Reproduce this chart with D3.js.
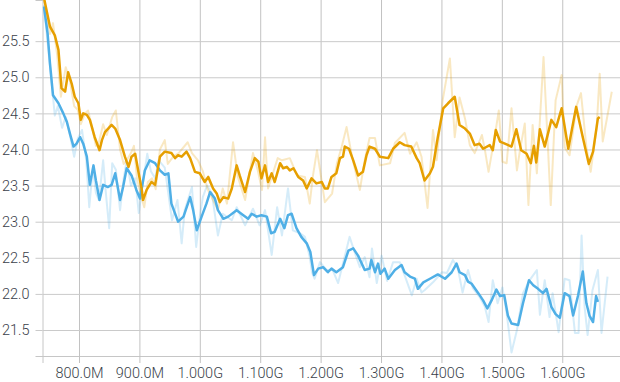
<!DOCTYPE html>
<html>
<head>
<meta charset="utf-8">
<script src="https://cdn.jsdelivr.net/npm/d3@7"></script>
<style>
  body { margin: 0; background: #fff; }
  svg { display: block; }
  .tick text { font-family: Roboto, "Liberation Sans", sans-serif; font-weight: 300; font-size: 14.5px; fill: #3a3f4a; }
</style>
</head>
<body>
<script>
// steps are in millions, values are loss
const xTicks = [800, 900, 1000, 1100, 1200, 1300, 1400, 1500, 1600];
const yTicks = [21.5, 22.0, 22.5, 23.0, 23.5, 24.0, 24.5, 25.0, 25.5];

const orangeRaw = [
  [742, 26.1], [752, 25.6], [757, 25.75], [764, 25.3], [770, 24.73], [778, 25.14], [785, 24.95], [792, 24.6],
  [798, 24.55], [803, 24.35], [810, 24.5], [815, 24.54], [822, 24.3], [828, 24.05], [833, 24.1], [840, 24.35],
  [846, 24.2], [855, 24.45], [861, 24.54], [868, 24.0], [874, 23.8], [879, 23.85], [886, 23.95], [891, 24.05],
  [896, 23.6], [903, 23.35], [908, 23.2], [914, 23.55], [921, 23.6], [927, 23.45], [934, 24.0], [942, 24.13],
  [947, 23.8], [956, 23.9], [965, 23.95], [980, 24.1], [987, 23.95], [997, 23.85], [1005, 23.7], [1013, 23.45],
  [1022, 23.3], [1030, 23.16], [1038, 23.46], [1045, 23.25], [1055, 24.1], [1063, 23.62], [1075, 23.3], [1088, 23.95],
  [1096, 23.71], [1103, 23.44], [1108, 24.17], [1113, 23.46], [1129, 23.88], [1136, 23.85], [1149, 23.88], [1161, 23.64],
  [1174, 23.62], [1182, 23.25], [1187, 23.62], [1194, 23.99], [1207, 23.27], [1219, 23.39], [1227, 23.81], [1235, 24.04],
  [1243, 24.31], [1252, 23.9], [1265, 23.44], [1273, 23.85], [1281, 24.16], [1290, 24.16], [1298, 23.78], [1315, 23.81],
  [1323, 24.09], [1339, 24.23], [1348, 23.94], [1359, 24.1], [1367, 23.9], [1377, 23.19], [1386, 24.27], [1392, 23.85],
  [1402, 24.68], [1414, 25.26], [1422, 24.17], [1430, 24.72], [1439, 24.43], [1447, 24.06], [1455, 23.95], [1467, 24.2],
  [1472, 23.99], [1478, 23.69], [1488, 24.17], [1495, 24.54], [1501, 23.83], [1508, 23.81], [1516, 24.57], [1525, 23.71],
  [1530, 23.99], [1538, 24.36], [1544, 23.23], [1551, 24.34], [1558, 23.67], [1569, 25.28], [1581, 23.23], [1589, 24.68],
  [1599, 25.03], [1604, 24.03], [1612, 23.92], [1624, 24.61], [1631, 24.78], [1640, 24.03], [1647, 23.69], [1657, 24.31],
  [1662, 25.05], [1667, 24.11], [1682, 24.8]
];

const blueRaw = [
  [742, 26.0], [749, 25.4], [755, 24.9], [760, 24.47], [765, 24.6], [772, 24.3], [778, 24.45], [785, 24.2],
  [792, 23.9], [798, 24.15], [805, 24.27], [812, 23.85], [817, 23.2], [823, 23.75], [828, 23.4], [833, 23.3],
  [840, 23.85], [845, 23.35], [850, 22.91], [855, 23.81], [861, 23.72], [868, 23.16], [874, 23.6], [879, 23.85],
  [886, 23.5], [893, 23.6], [899, 23.12], [906, 23.55], [913, 23.94], [919, 23.7], [926, 23.6], [932, 23.85],
  [942, 23.75], [954, 23.02], [963, 23.3], [970, 22.7], [975, 23.16], [987, 23.48], [994, 22.65], [1000, 23.07],
  [1005, 23.34], [1012, 23.5], [1020, 23.39], [1030, 22.81], [1038, 23.11], [1053, 23.02], [1061, 23.2], [1075, 22.95],
  [1088, 23.18], [1099, 22.95], [1108, 23.16], [1119, 22.54], [1128, 23.2], [1136, 22.81], [1146, 23.46], [1154, 22.88],
  [1166, 22.84], [1174, 22.79], [1182, 22.51], [1186, 22.29], [1190, 22.21], [1199, 22.44], [1210, 22.33], [1220, 22.33],
  [1229, 22.15], [1237, 22.42], [1248, 22.79], [1257, 22.56], [1265, 22.37], [1273, 22.51], [1281, 22.23], [1285, 22.63],
  [1293, 22.15], [1301, 22.53], [1310, 22.18], [1320, 22.44], [1331, 22.44], [1339, 22.26], [1351, 21.98], [1359, 22.21],
  [1367, 22.02], [1372, 22.05], [1386, 22.16], [1401, 22.3], [1409, 22.29], [1419, 22.47], [1427, 22.36], [1435, 22.02],
  [1444, 22.33], [1452, 22.08], [1463, 21.96], [1472, 21.82], [1478, 21.61], [1485, 22.19], [1493, 21.87], [1501, 22.09],
  [1508, 21.73], [1516, 21.19], [1525, 21.5], [1535, 22.01], [1546, 22.19], [1558, 22.33], [1563, 21.71], [1571, 22.19],
  [1579, 21.68], [1584, 22.01], [1594, 21.47], [1604, 22.21], [1612, 22.19], [1621, 21.46], [1627, 21.46], [1632, 22.81],
  [1637, 21.82], [1642, 21.43], [1650, 22.05], [1659, 22.33], [1665, 21.46], [1675, 22.24]
];

const orangeSmooth = [
  [742, 26.1], [752, 25.7], [760, 25.58], [766, 25.38], [771, 24.85], [777, 24.8], [782, 25.07], [788, 24.91],
  [793, 24.73], [799, 24.64], [803, 24.41], [807, 24.5], [813, 24.48], [818, 24.41], [826, 24.17], [834, 23.99],
  [838, 24.13], [843, 24.24], [854, 24.34], [860, 24.29], [868, 24.13], [876, 23.9], [882, 23.76], [887, 23.9],
  [893, 23.94], [898, 23.71], [904, 23.44], [906, 23.3], [912, 23.44], [920, 23.55], [926, 23.51], [934, 23.9],
  [942, 23.97], [953, 23.95], [959, 23.88], [964, 23.92], [970, 23.9], [978, 23.97], [984, 23.88], [992, 23.69],
  [1000, 23.67], [1008, 23.55], [1014, 23.62], [1022, 23.46], [1028, 23.39], [1033, 23.27], [1039, 23.34], [1047, 23.32],
  [1053, 23.46], [1061, 23.78], [1066, 23.64], [1075, 23.41], [1083, 23.69], [1091, 23.88], [1097, 23.83], [1102, 23.6],
  [1108, 23.78], [1113, 23.55], [1119, 23.67], [1124, 23.55], [1133, 23.81], [1138, 23.74], [1144, 23.76], [1149, 23.71],
  [1155, 23.74], [1163, 23.62], [1171, 23.57], [1177, 23.46], [1185, 23.6], [1193, 23.53], [1202, 23.55], [1207, 23.46],
  [1212, 23.46], [1218, 23.62], [1226, 23.67], [1232, 23.88], [1237, 23.9], [1240, 24.04], [1247, 24.01], [1254, 23.85],
  [1262, 23.64], [1270, 23.69], [1276, 23.92], [1281, 24.04], [1290, 24.01], [1298, 23.9], [1312, 23.88], [1320, 24.01],
  [1331, 24.1], [1339, 24.06], [1350, 24.04], [1359, 23.88], [1364, 23.81], [1372, 23.57], [1381, 23.67], [1386, 23.76],
  [1394, 24.17], [1403, 24.57], [1411, 24.64], [1422, 24.73], [1430, 24.34], [1439, 24.29], [1447, 24.22], [1455, 24.06],
  [1463, 24.08], [1469, 24.01], [1480, 24.06], [1485, 23.99], [1490, 24.27], [1497, 24.11], [1505, 24.08], [1516, 24.04],
  [1524, 24.28], [1532, 23.99], [1541, 23.94], [1548, 23.81], [1553, 24.05], [1557, 23.82], [1563, 24.28], [1571, 24.04],
  [1582, 24.41], [1590, 24.31], [1599, 24.57], [1610, 24.01], [1623, 24.59], [1634, 24.17], [1644, 23.8], [1651, 23.97],
  [1659, 24.43], [1662, 24.45]
];

const blueSmooth = [
  [742, 25.98], [748, 25.61], [752, 25.19], [757, 24.75], [766, 24.64], [774, 24.5], [780, 24.38], [785, 24.22],
  [791, 24.04], [796, 24.08], [802, 24.17], [807, 24.08], [813, 23.9], [818, 23.51], [824, 23.78], [828, 23.57],
  [834, 23.3], [840, 23.51], [848, 23.48], [854, 23.51], [860, 23.67], [868, 23.3], [873, 23.48], [879, 23.74],
  [887, 23.64], [895, 23.44], [901, 23.32], [909, 23.71], [917, 23.85], [926, 23.81], [934, 23.71], [942, 23.65],
  [948, 23.67], [953, 23.25], [964, 23.0], [973, 23.07], [984, 23.34], [989, 23.16], [995, 22.88], [1003, 23.07],
  [1011, 23.25], [1017, 23.41], [1025, 23.32], [1030, 23.16], [1039, 23.04], [1047, 23.07], [1061, 23.16], [1072, 23.09],
  [1080, 23.04], [1086, 23.11], [1094, 23.07], [1102, 23.09], [1111, 23.07], [1118, 22.84], [1124, 22.86], [1133, 23.04],
  [1140, 22.91], [1146, 23.09], [1152, 23.11], [1160, 22.91], [1168, 22.79], [1177, 22.7], [1183, 22.58], [1189, 22.26],
  [1196, 22.35], [1204, 22.37], [1212, 22.3], [1218, 22.35], [1226, 22.3], [1237, 22.37], [1246, 22.6], [1254, 22.63],
  [1262, 22.53], [1273, 22.33], [1281, 22.35], [1284, 22.47], [1290, 22.3], [1295, 22.42], [1299, 22.28], [1306, 22.35],
  [1312, 22.21], [1323, 22.33], [1334, 22.4], [1339, 22.3], [1348, 22.24], [1356, 22.21], [1361, 22.07], [1370, 22.16],
  [1381, 22.21], [1394, 22.27], [1406, 22.21], [1417, 22.3], [1425, 22.42], [1430, 22.3], [1439, 22.26], [1444, 22.17],
  [1450, 22.14], [1461, 22.01], [1469, 21.91], [1476, 21.8], [1483, 21.91], [1491, 22.06], [1497, 21.97], [1504, 21.98],
  [1510, 21.7], [1516, 21.59], [1527, 21.57], [1535, 21.87], [1545, 22.19], [1552, 22.12], [1560, 22.07], [1568, 22.01],
  [1574, 22.07], [1582, 21.82], [1589, 21.72], [1596, 21.67], [1604, 22.01], [1612, 21.97], [1618, 21.7], [1626, 21.97],
  [1634, 22.31], [1640, 21.87], [1645, 21.7], [1651, 21.61], [1656, 21.97], [1659, 21.89]
];

const width = 620, height = 382;
const left = 42.5, bottom = 356;

const x = d3.scaleLinear().domain([739.6, 1695.6]).range([left, width]);
const y = d3.scaleLinear().domain([21.14, 26.07]).range([bottom, 0]);

const svg = d3.select("body").append("svg")
  .attr("width", width)
  .attr("height", height);

svg.append("defs").append("clipPath").attr("id", "plot")
  .append("rect").attr("x", left).attr("y", 0).attr("width", width - left).attr("height", bottom);

// grid via axes with long ticks
const xAxis = svg.append("g")
  .attr("transform", `translate(0,${bottom})`)
  .call(d3.axisBottom(x).tickValues(xTicks).tickSize(7).tickPadding(5)
    .tickFormat(d => d3.format(".4s")(d * 1e6)));
xAxis.select(".domain").attr("stroke", "#c6c6c6");
xAxis.selectAll(".tick line").clone()
  .attr("y1", 0).attr("y2", -bottom);
xAxis.selectAll(".tick line").attr("stroke", "#c2c2c2");

const yAxis = svg.append("g")
  .attr("transform", `translate(${left},0)`)
  .call(d3.axisLeft(y).tickValues(yTicks).tickSize(7).tickPadding(6).tickFormat(d3.format(".1f")));
yAxis.select(".domain").attr("stroke", "#c6c6c6");
yAxis.selectAll(".tick line").clone()
  .attr("x1", 0).attr("x2", width - left);
yAxis.selectAll(".tick line").attr("stroke", "#cacaca");

const line = d3.line().x(d => x(d[0])).y(d => y(d[1]));

const plot = svg.append("g").attr("clip-path", "url(#plot)");

plot.append("path").datum(blueRaw)
  .attr("fill", "none").attr("stroke", "#56B4E9").attr("stroke-opacity", 0.25)
  .attr("stroke-width", 2).attr("stroke-linejoin", "round").attr("d", line);
plot.append("path").datum(orangeRaw)
  .attr("fill", "none").attr("stroke", "#E69F00").attr("stroke-opacity", 0.24)
  .attr("stroke-width", 2).attr("stroke-linejoin", "round").attr("d", line);
plot.append("path").datum(blueSmooth)
  .attr("fill", "none").attr("stroke", "#4FAFE6")
  .attr("stroke-width", 2.5).attr("stroke-linejoin", "round").attr("d", line);
plot.append("path").datum(orangeSmooth)
  .attr("fill", "none").attr("stroke", "#E69F00")
  .attr("stroke-width", 2.5).attr("stroke-linejoin", "round").attr("d", line);
</script>
</body>
</html>
